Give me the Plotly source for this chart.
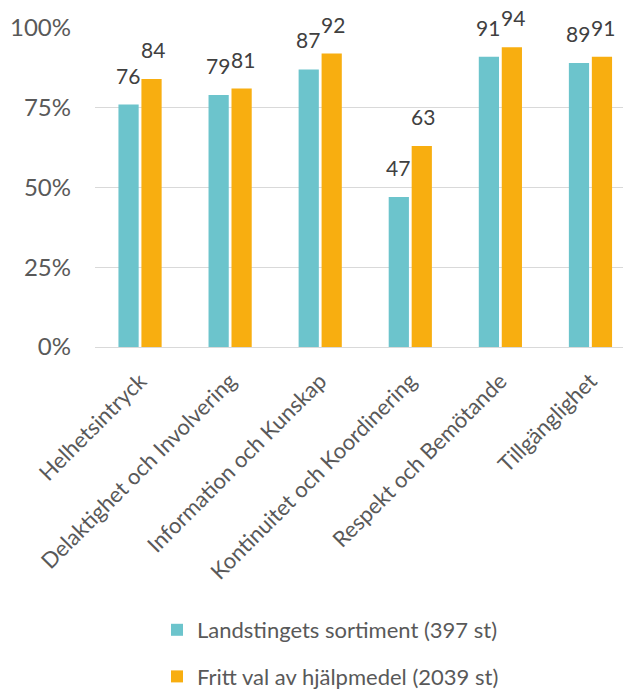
import plotly.graph_objects as go

categories = ["Helhetsintryck", "Delaktighet och Involvering", "Information och Kunskap",
              "Kontinuitet och Koordinering", "Respekt och Bemötande", "Tillgänglighet"]
series_names = ["Landstingets sortiment (397 st)", "Fritt val av hjälpmedel (2039 st)"]
landsting = [76, 79, 87, 47, 91, 89]
fritt = [84, 81, 92, 63, 94, 91]
y_ticks = [0, 25, 50, 75, 100]
y_tick_labels = ["0%", "25%", "50%", "75%", "100%"]

colors = ["#6CC4CC", "#F8AE10"]
FONT = "Lato"

fig = go.Figure()
for i, (name, vals) in enumerate([(series_names[0], landsting), (series_names[1], fritt)]):
    fig.add_trace(go.Bar(
        x=categories, y=vals, name=name,
        marker=dict(color=colors[i], line=dict(width=0)),
        legendgroup=f"g{i}",
        hoverinfo="skip",
    ))

annotations = []
for i, vals in enumerate([landsting, fritt]):
    for c, v in zip(categories, vals):
        annotations.append(dict(
            x=c, y=v, xref="x", yref="y", text=str(v), showarrow=False,
            xshift=-12.5 if i == 0 else 12.5, yshift=15, yanchor="bottom",
            font=dict(family=FONT, size=21, color="#404040"),
        ))

# page has an 8px body margin; figure coords are page coords minus 8
W, H = 623, 681
PLOT_L, PLOT_W, PLOT_T, PLOT_H = 87, 536, 20, 319
plot_bottom = PLOT_T + PLOT_H

fig.update_layout(
    width=W, height=H,
    margin=dict(l=PLOT_L, r=W - PLOT_L - PLOT_W, t=PLOT_T, b=H - plot_bottom, autoexpand=False),
    paper_bgcolor="white", plot_bgcolor="white",
    barmode="group", bargap=0.49, bargroupgap=0.12,
    font=dict(family=FONT, color="#595959"),
    annotations=annotations,
    showlegend=True,
    legend=dict(
        orientation="v",
        x=(149 - PLOT_L) / PLOT_W, xanchor="left",
        y=-(601 - plot_bottom) / PLOT_H, yanchor="top",
        font=dict(family=FONT, size=22, color="#595959"),
        tracegroupgap=15, traceorder="grouped",
    ),
    xaxis=dict(
        range=[-0.5, 5.45], tickangle=-45, showgrid=False, showline=False,
        tickfont=dict(family=FONT, size=22, color="#595959"),
        ticks="", zeroline=False, automargin=False, ticklabelstandoff=16,
    ),
    yaxis=dict(
        range=[0, 100], tickvals=y_ticks, ticktext=y_tick_labels,
        showgrid=True, gridcolor="#D9D9D9", gridwidth=1,
        zeroline=True, zerolinecolor="#D9D9D9", zerolinewidth=1,
        tickfont=dict(family=FONT, size=24, color="#595959"),
        ticks="", ticklabelstandoff=23, showline=False, automargin=False,
    ),
)

fig.write_html("out.html")
